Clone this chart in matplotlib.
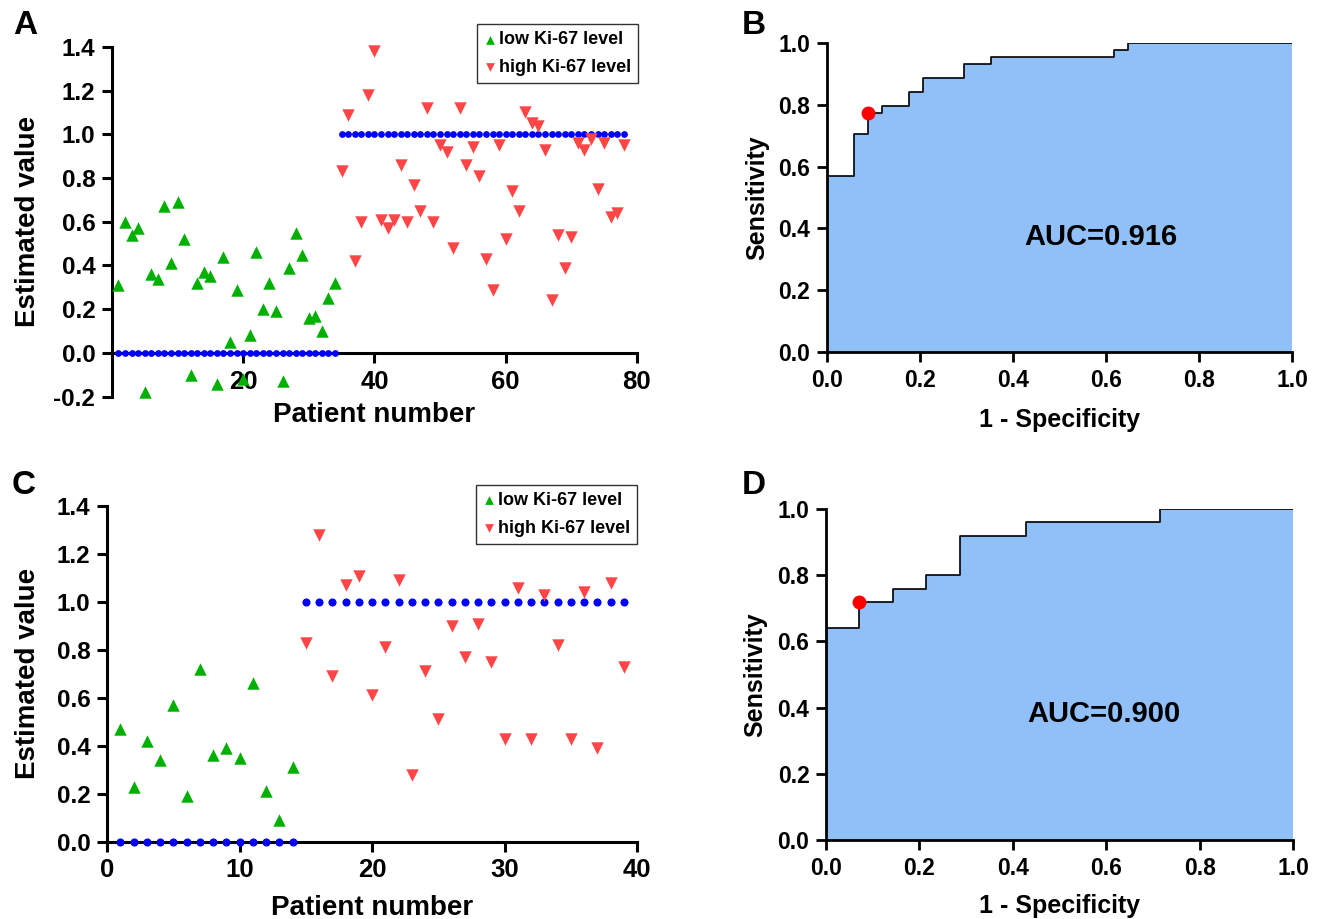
import matplotlib
matplotlib.use("Agg")
import matplotlib.pyplot as plt

plt.rcParams['font.family'] = ['Liberation Sans', 'DejaVu Sans']
plt.rcParams['font.weight'] = 'bold'
plt.rcParams['axes.unicode_minus'] = False

# panel A: training set, estimated values per patient
a_low_x = list(range(1, 35))
a_low_y = [0.31, 0.60, 0.54, 0.57, -0.18, 0.36, 0.34, 0.67, 0.41, 0.69,
           0.52, -0.10, 0.32, 0.37, 0.35, -0.14, 0.44, 0.05, 0.29, -0.12,
           0.08, 0.46, 0.20, 0.32, 0.19, -0.13, 0.39, 0.55, 0.45, 0.16,
           0.17, 0.10, 0.25, 0.32]
a_high_x = list(range(35, 79))
a_high_y = [0.83, 1.09, 0.42, 0.60, 1.18, 1.38, 0.61, 0.57, 0.61, 0.86,
            0.60, 0.77, 0.65, 1.12, 0.60, 0.95, 0.92, 0.48, 1.12, 0.86,
            0.94, 0.81, 0.43, 0.29, 0.95, 0.52, 0.74, 0.65, 1.10, 1.05,
            1.04, 0.93, 0.24, 0.54, 0.39, 0.53, 0.96, 0.93, 0.98, 0.75,
            0.96, 0.62, 0.64, 0.95]
a_true_low = [0] * 34
a_true_high = [1] * 44

# panel C: validation set
c_low_x = list(range(1, 15))
c_low_y = [0.47, 0.23, 0.42, 0.34, 0.57, 0.19, 0.72, 0.36, 0.39, 0.35,
           0.66, 0.21, 0.09, 0.31]
c_high_x = list(range(15, 40))
c_high_y = [0.83, 1.28, 0.69, 1.07, 1.11, 0.61, 0.81, 1.09, 0.28, 0.71,
            0.51, 0.90, 0.77, 0.91, 0.75, 0.43, 1.06, 0.43, 1.03, 0.82,
            0.43, 1.04, 0.39, 1.08, 0.73]
c_true_low = [0] * 14
c_true_high = [1] * 25

# ROC curves (corner points of the staircase)
b_fpr = [0, 0, 0.059, 0.088, 0.118, 0.176, 0.206, 0.294, 0.353, 0.618, 0.647, 1.0]
b_tpr = [0, 0.568, 0.705, 0.773, 0.795, 0.841, 0.886, 0.932, 0.955, 0.977, 1.0, 1.0]
b_cut = (0.088, 0.773)
b_auc = "AUC=0.916"

d_fpr = [0, 0, 0.071, 0.143, 0.214, 0.286, 0.429, 0.714, 1.0]
d_tpr = [0, 0.64, 0.72, 0.76, 0.80, 0.92, 0.96, 1.0, 1.0]
d_cut = (0.071, 0.72)
d_auc = "AUC=0.900"

green = '#00B000'
red = '#FF4545'
blue = '#0000FF'
fill = '#91BFF7'

fig = plt.figure(figsize=(13.2, 9.19), dpi=100)


def scatter_panel(ax, lx, ly, hx, hy, tl, th, xlim, xticks, ylim, dot_size):
    ax.scatter(lx, tl, s=dot_size, color=blue, zorder=3, clip_on=False, linewidths=0)
    ax.scatter(hx, th, s=dot_size, color=blue, zorder=3, clip_on=False, linewidths=0)
    ax.scatter(lx, ly, marker='^', s=80, color=green, zorder=4, clip_on=False,
               linewidths=0, label='low Ki-67 level')
    ax.scatter(hx, hy, marker='v', s=80, color=red, zorder=4, clip_on=False,
               linewidths=0, label='high Ki-67 level')
    ax.set_xlim(*xlim)
    ax.set_ylim(*ylim)
    ax.set_xticks(xticks)
    ax.set_yticks([round(ylim[0] + 0.2 * i, 1) for i in range(int(round((ylim[1] - ylim[0]) / 0.2)) + 1)])
    ax.yaxis.set_major_formatter(matplotlib.ticker.FormatStrFormatter('%.1f'))
    for s in ['top', 'right']:
        ax.spines[s].set_visible(False)
    for s in ['left', 'bottom']:
        ax.spines[s].set_linewidth(2.2)
    ax.spines['bottom'].set_position(('data', 0))
    ax.tick_params(direction='out', length=7, width=2.2, pad=5)
    ax.tick_params(axis='y', labelsize=17.5)
    ax.tick_params(axis='x', labelsize=18.5)
    ax.set_xlabel('Patient number', fontsize=20, fontweight='bold')
    ax.set_ylabel('Estimated value', fontsize=20, fontweight='bold')
    leg = ax.legend(loc='upper right', fontsize=13, frameon=True, fancybox=False,
                    edgecolor='black', handlelength=0.6, handletextpad=0.2,
                    borderpad=0.4, labelspacing=0.6, markerscale=0.7,
                    borderaxespad=0)
    leg.get_frame().set_linewidth(1.0)
    return leg


def roc_panel(ax, fpr, tpr, cut, auc, auc_pos):
    ax.fill_between(fpr, tpr, step='post', color=fill, linewidth=0, zorder=1)
    ax.plot(fpr, tpr, drawstyle='steps-post', color='black', linewidth=1.2, zorder=2)
    ax.plot([cut[0]], [cut[1]], 'o', color='red', markersize=9, zorder=3)
    ax.set_xlim(0, 1)
    ax.set_ylim(0, 1)
    ax.set_xticks([0, 0.2, 0.4, 0.6, 0.8, 1.0])
    ax.set_yticks([0, 0.2, 0.4, 0.6, 0.8, 1.0])
    ax.xaxis.set_major_formatter(matplotlib.ticker.FormatStrFormatter('%.1f'))
    ax.yaxis.set_major_formatter(matplotlib.ticker.FormatStrFormatter('%.1f'))
    for s in ['top', 'right']:
        ax.spines[s].set_visible(False)
    for s in ['left', 'bottom']:
        ax.spines[s].set_linewidth(2.0)
    ax.tick_params(direction='out', length=7, width=2.0, labelsize=16.5, pad=5)
    ax.set_xlabel('1 - Specificity', fontsize=18, fontweight='bold')
    ax.set_ylabel('Sensitivity', fontsize=18, fontweight='bold')
    ax.text(auc_pos[0], auc_pos[1], auc, transform=ax.transAxes, ha='center', va='center',
            fontsize=21, fontweight='bold')


axA = fig.add_axes([0.0848, 0.5683, 0.3977, 0.3808])
legA = scatter_panel(axA, a_low_x, a_low_y, a_high_x, a_high_y, a_true_low, a_true_high,
                     (0, 80), [20, 40, 60, 80], (-0.2, 1.4), 24)
legA.set_bbox_to_anchor((1.002, 1.065), transform=axA.transAxes)
axA.xaxis.set_label_coords(0.5, -0.015)
axA.yaxis.set_label_coords(-0.135, 0.5)

axC = fig.add_axes([0.0811, 0.0841, 0.4015, 0.3653])
legC = scatter_panel(axC, c_low_x, c_low_y, c_high_x, c_high_y, c_true_low, c_true_high,
                     (0, 40), [0, 10, 20, 30, 40], (0, 1.4), 34)
legC.set_bbox_to_anchor((1.0, 1.063), transform=axC.transAxes)
axC.xaxis.set_label_coords(0.5, -0.16)
axC.yaxis.set_label_coords(-0.125, 0.5)

axB = fig.add_axes([0.6265, 0.617, 0.3523, 0.3362])
roc_panel(axB, b_fpr, b_tpr, b_cut, b_auc, (0.589, 0.372))
axB.xaxis.set_label_coords(0.5, -0.18)
axB.yaxis.set_label_coords(-0.125, 0.5)

axD = fig.add_axes([0.6258, 0.086, 0.3538, 0.360])
roc_panel(axD, d_fpr, d_tpr, d_cut, d_auc, (0.595, 0.381))
axD.xaxis.set_label_coords(0.5, -0.163)
axD.yaxis.set_label_coords(-0.125, 0.5)

for letter, x, y in [('A', 25, 26), ('B', 754, 26), ('C', 24, 486), ('D', 754, 486)]:
    fig.text(x / 1320, 1 - y / 919, letter, fontsize=24, fontweight='bold',
             ha='center', va='center')

fig.savefig('out.png', dpi=100)
